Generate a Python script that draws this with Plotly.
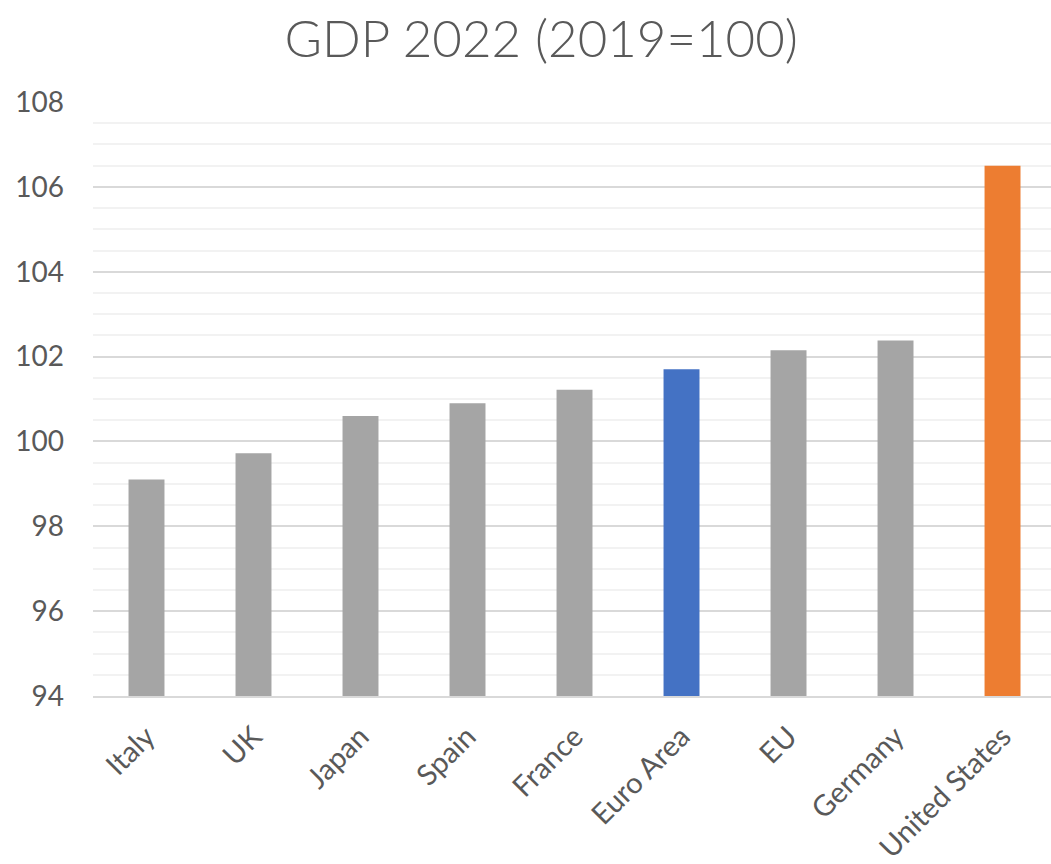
import plotly.graph_objects as go

categories = ["Italy", "UK", "Japan", "Spain", "France", "Euro Area", "EU", "Germany", "United States"]
values = [99.1, 99.72, 100.6, 100.9, 101.22, 101.7, 102.15, 102.38, 106.5]
colors = ["#a5a5a5", "#a5a5a5", "#a5a5a5", "#a5a5a5", "#a5a5a5", "#4472c4", "#a5a5a5", "#a5a5a5", "#ed7d31"]
y_ticks = [94, 96, 98, 100, 102, 104, 106, 108]

font_family = "Lato, 'Open Sans', sans-serif"
text_color = "#595959"

fig = go.Figure(
    go.Bar(
        x=categories,
        y=values,
        marker=dict(color=colors, line=dict(width=0)),
        width=0.336,
    )
)

fig.update_layout(
    width=1051,
    height=864,
    margin=dict(l=93, r=0, t=102, b=165),
    paper_bgcolor="white",
    plot_bgcolor="white",
    showlegend=False,
    title=dict(
        text="GDP 2022 (2019=100)",
        x=0.515,
        xanchor="center",
        y=0.955,
        yanchor="middle",
        font=dict(family=font_family, size=51, color=text_color, weight=300),
    ),
    font=dict(family=font_family, color=text_color),
)

fig.update_xaxes(
    range=[-0.5, 8.453],
    tickangle=-45,
    tickfont=dict(size=29, color=text_color, family=font_family),
    showgrid=False,
    showline=True,
    linecolor="#d9d9d9",
    linewidth=2,
    ticks="",
    ticklabelstandoff=10,
    fixedrange=True,
)

fig.update_yaxes(
    range=[94, 108],
    tickvals=y_ticks,
    ticktext=[str(v) for v in y_ticks],
    tickfont=dict(size=28, color=text_color, family=font_family),
    showgrid=True,
    gridcolor="#d9d9d9",
    gridwidth=1.5,
    zeroline=False,
    showline=False,
    ticks="",
    ticklabelstandoff=28,
    minor=dict(dtick=0.5, showgrid=True, gridcolor="#f2f2f2", gridwidth=1.5, ticks=""),
    fixedrange=True,
)

fig.write_html("out.html")
